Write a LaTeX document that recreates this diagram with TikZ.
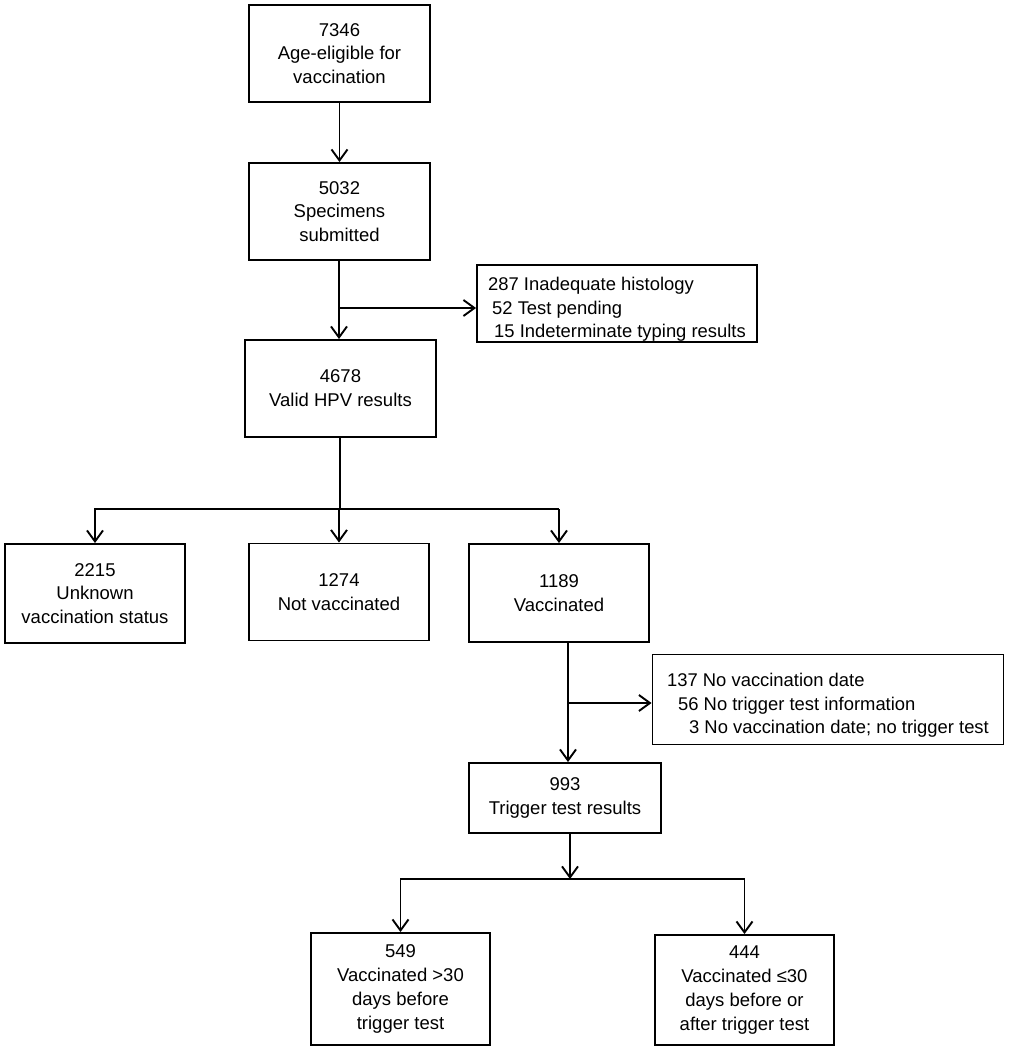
\documentclass[tikz,border=0pt]{standalone}
\usepackage{fontspec}
\setmainfont{Liberation Sans}
\usetikzlibrary{arrows.meta,calc}
\newcommand{\exlines}[1]{\raisebox{-6pt}[\height][\depth]{\begin{tabular}{@{}l@{}}#1\end{tabular}}}
\begin{document}
\begin{tikzpicture}[x=1pt,y=-1pt,
  box/.style={draw, line width=1.9pt, align=center, inner sep=0pt,
    font=\fontsize{18.5}{23.8}\selectfont},
  excl/.style={draw, line width=1.9pt, inner sep=0pt,
    font=\fontsize{18.4}{23.3}\selectfont},
  conn/.style={line width=1.9pt},
  arr/.style={line width=1.9pt, -{Straight Barb[length=11pt,width=16pt,line width=1.9pt]}}]
\useasboundingbox (0,0) rectangle (1009,1050);
\fill[white] (0,0) rectangle (1009,1050);

\node[box, minimum width=181, minimum height=97] (b1) at (339.5,53.5) {7346\\Age-eligible for\\vaccination};
\node[box, minimum width=181, minimum height=97] (b2) at (339.5,211.5) {5032\\Specimens\\submitted};
\node[box, minimum width=191, minimum height=97] (b3) at (340.5,388.5) {4678\\Valid HPV results};
\node[excl, minimum width=280, minimum height=77] (e1) at (617,303.5)
  {\exlines{287 Inadequate histology\\\hspace*{4pt}52 Test pending\\\hspace*{6pt}15 Indeterminate typing results}};
\node[box, minimum width=180, minimum height=99] (u) at (95,593.5) {2215\\Unknown\\vaccination status};
\node[box, minimum width=180, minimum height=97] (n) at (339,592) {1274\\Not vaccinated};
\node[box, minimum width=180, minimum height=98] (v) at (559,593) {1189\\Vaccinated};
\node[excl, minimum width=351, minimum height=90] (e2) at (828,699.5)
  {\exlines{137 No vaccination date\\\hspace*{11pt}56 No trigger test information\\\hspace*{22pt}3 No vaccination date; no trigger test}};
\node[box, minimum width=192, minimum height=70] (t) at (565,798) {993\\Trigger test results};
\node[box, minimum width=179, minimum height=112] (g) at (400.5,989) {549\\Vaccinated >30\\days before\\trigger test};
\node[box, minimum width=179, minimum height=110] (l) at (744.5,990) {444\\Vaccinated ≤30\\days before or\\after trigger test};

% top chain
\draw[arr] (b1.south) -- (b2.north);
\coordinate (j1) at (339,308);
\draw[arr] (j1 |- b2.south) -- (j1 |- b3.north);
\draw[arr] (j1) -- (j1 -| e1.west);

% three-way split
\coordinate (j2) at (340,509);
\draw[conn] (j2 |- b3.south) -- (j2);
\draw[arr] (j2 -| v) -- (j2 -| u) -- (u.north);
\draw[arr] (j2 -| v) -- (v.north);
\draw[arr] (j2) -- (j2 -| n) -- (n.north);

% vaccinated to trigger
\coordinate (j3) at (568,703);
\draw[arr] (j3 |- v.south) -- (j3 |- t.north);
\draw[arr] (j3) -- (j3 -| e2.west);

% bottom split
\coordinate (j4) at (570,879);
\draw[arr] (j4 |- t.south) -- (j4);
\draw[arr] (j4) -- (j4 -| g) -- (g.north);
\draw[arr] (j4) -- (j4 -| l) -- (l.north);
\end{tikzpicture}
\end{document}
